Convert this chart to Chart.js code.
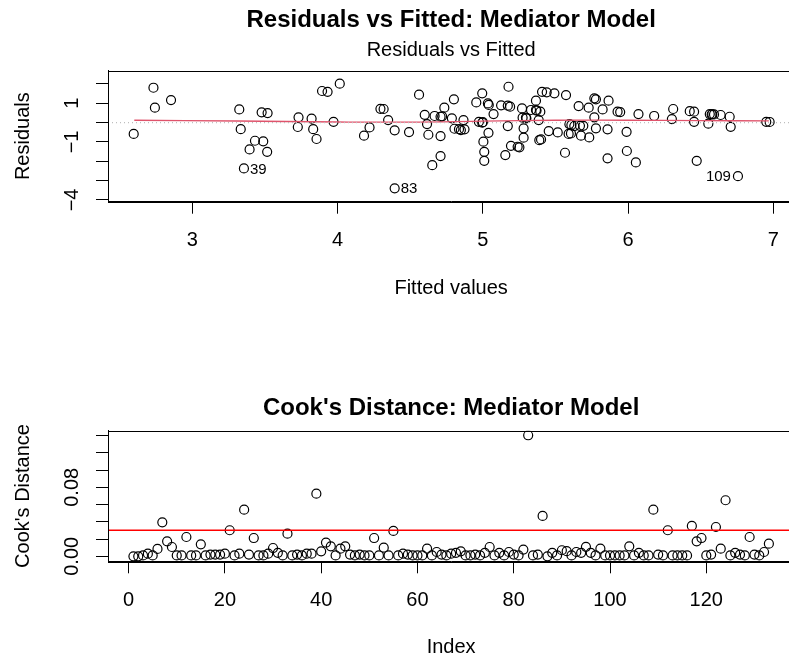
<!DOCTYPE html>
<html>
<head>
<meta charset="utf-8">
<title>Mediator Model diagnostics</title>
<script src="https://cdn.jsdelivr.net/npm/chart.js@4"></script>
<style>
  html, body { margin: 0; padding: 0; background: #fff; overflow: hidden; }
  #wrap { position: relative; width: 789px; height: 659px; overflow: hidden; }
  .panel { position: absolute; left: 0; }
  #p1 { top: 0; }
  #p2 { top: 330px; }
</style>
</head>
<body>
<div id="wrap">
  <div class="panel" id="p1"><canvas id="chart-resid" width="800" height="330"></canvas></div>
  <div class="panel" id="p2"><canvas id="chart-cook" width="800" height="345"></canvas></div>
</div>
<script>
const FONT = '"Liberation Sans", Arial, Helvetica, sans-serif';

// ==================== DATOS: Residuals vs Fitted ====================

const fittedVals = [
  2.596, 2.732, 2.742, 2.853, 3.323, 3.333, 3.431, 3.488, 3.394, 3.515, 3.355, 3.477, 3.518,
  3.731, 3.726, 3.821, 3.832, 3.855, 3.893, 3.931, 3.972, 4.015,
  4.182, 4.220, 4.295, 4.317, 4.348, 4.393, 4.492, 4.561, 4.600, 4.616, 4.625, 4.668, 4.709,
  4.709, 4.735, 4.801, 4.787, 4.805, 4.849, 4.867, 4.874, 4.652, 4.709, 4.955, 4.996, 4.973,
  4.996, 5.035, 5.039, 5.004, 5.010, 5.010, 5.074, 5.126, 5.172, 5.188, 5.177, 5.172, 5.155,
  5.194, 5.240, 5.252, 5.270, 5.274, 5.281, 5.281, 5.297, 5.332, 5.366, 5.366, 5.385, 5.396,
  5.389, 5.401, 5.408, 5.440, 5.493, 5.454, 5.516, 5.573, 5.566, 4.393, 4.836, 5.041,
  5.660, 5.729, 5.768, 5.779, 5.866, 5.768, 5.825, 5.779, 5.859, 5.596, 5.630, 5.669, 5.692,
  5.591, 5.607, 5.676, 5.733, 5.859, 5.928, 5.946, 5.990, 5.992, 6.054, 6.072, 6.180, 6.311,
  6.302, 6.425, 6.455, 6.455, 6.553, 6.563, 6.576, 6.592, 6.638, 6.700, 6.707, 6.473, 6.757,
  6.952, 6.975,
  5.300, 5.370, 5.000, 4.720, 5.610, 6.580
];
const residVals = [
  -0.59, 1.80, 0.77, 1.16, 0.68, -0.34, -0.94, -0.97, -1.39, -1.51, -2.37, 0.53, 0.49,
  0.27, -0.23, 0.20, -0.34, -0.85, 1.63, 1.59, 0.04, 2.01,
  -0.68, -0.25, 0.71, 0.70, 0.13, -0.40, -0.49, 1.44, 0.40, -0.08, -0.63, 0.34, -0.70,
  0.30, 0.77, 1.20, 0.22, -0.32, -0.39, 0.13, -0.35, -2.20, -1.73, 1.04, 1.51, 0.04,
  -0.01, 0.99, -0.53, -0.99, -1.51, -1.98, 0.44, 0.89, 0.87, 0.82, 1.85, -0.18, -1.68,
  -1.20, -1.25, -1.28, 0.73, 0.25, -0.30, -0.78, 0.25, 0.65, 1.13, 0.65, 0.13, 0.56,
  -0.91, -0.87, 1.59, 1.56, 1.51, -0.44, -0.51, 1.42, -1.56, -3.40, -0.34, 0.91,
  0.85, 0.77, 1.25, 1.20, 1.13, 0.27, 0.68, -0.30, -0.35, -0.08, -0.18, -0.17, -0.17,
  -0.59, -0.56, -0.68, -0.77, -1.85, 0.56, 0.54, -0.48, -1.47, -2.06, 0.44, 0.34, 0.70,
  0.18, 0.59, 0.56, 0.04, -0.06, 0.44, 0.42, 0.42, 0.39, 0.30, -0.22, -1.98, -2.77,
  0.04, 0.03,
  0.22, 0.62, 0.02, 0.32, -0.12, 0.43
];

// curva suavizada (lowess)
const lowessX = [2.60, 3.30, 4.00, 4.50, 5.00, 5.50, 6.00, 6.50, 6.97];
const lowessY = [0.12, 0.08, 0.03, 0.02, 0.07, 0.12, 0.12, 0.10, 0.09];

const residXRange = [2.419, 7.145];
const residYRange = [-4.09, 2.68];
const residXTicks = [3, 4, 5, 6, 7];
const residYTicks = [-4, -3, -2, -1, 0, 1, 2];
const residYLabels = [[1, '1'], [-1, '\u22121'], [-4, '\u22124']];

const outlierIds = ['39', '83', '109'];
const outlierFitted = [3.355, 4.393, 6.757];
const outlierResid = [-2.37, -3.40, -2.77];

// ==================== DATOS: Cook's Distance ====================

const cookD = [
  0.000, 0.000, 0.001, 0.003, 0.001, 0.0085, 0.0394, 0.0174, 0.0108, 0.001,
  0.001, 0.0224, 0.001, 0.001, 0.0139, 0.001, 0.002, 0.002, 0.002, 0.003,
  0.0302, 0.001, 0.003, 0.0541, 0.002, 0.0212, 0.001, 0.001, 0.003, 0.0096,
  0.004, 0.001, 0.0263, 0.001, 0.002, 0.001, 0.003, 0.003, 0.0727, 0.0058,
  0.0159, 0.0116, 0.001, 0.0089, 0.0116, 0.002, 0.001, 0.002, 0.001, 0.001,
  0.0212, 0.001, 0.010, 0.001, 0.0294, 0.001, 0.003, 0.002, 0.001, 0.001,
  0.001, 0.0089, 0.001, 0.005, 0.002, 0.001, 0.003, 0.004, 0.0058, 0.001,
  0.001, 0.002, 0.001, 0.004, 0.0108, 0.001, 0.004, 0.001, 0.005, 0.002,
  0.001, 0.0078, 0.1404, 0.001, 0.002, 0.0468, 0.000, 0.004, 0.001, 0.007,
  0.006, 0.001, 0.005, 0.004, 0.011, 0.004, 0.001, 0.0089, 0.001, 0.001,
  0.001, 0.001, 0.001, 0.0116, 0.001, 0.004, 0.001, 0.001, 0.0541, 0.002,
  0.001, 0.0302, 0.001, 0.001, 0.001, 0.001, 0.0352, 0.0174, 0.0212, 0.001,
  0.002, 0.034, 0.0089, 0.065, 0.001, 0.004, 0.002, 0.001, 0.0224, 0.002,
  0.001, 0.005, 0.0147
];
const cookIndex = cookD.map((_, i) => i + 1);
const cookCutoff = 4 / cookD.length;

const cookXRange = [-4.28, 138.28];
const cookYRange = [-0.0058, 0.1457];
const cookXTicks = [0, 20, 40, 60, 80, 100, 120];
const cookYTicks = [0, 0.02, 0.04, 0.06, 0.08, 0.10, 0.12, 0.14];
const cookYLabels = [[0, '0.00'], [0.08, '0.08']];

// ==================== PLUGINS ====================

// caja estilo R + etiquetas del eje Y rotadas
const rFrame = {
    id: 'rFrame',
    afterDraw(chart, args, opts) {
        const { ctx, chartArea: a, scales } = chart;
        ctx.save();
        ctx.strokeStyle = '#000';
        ctx.lineWidth = 1;
        ctx.strokeRect(Math.round(a.left) + 0.5, Math.round(a.top) + 0.5,
            Math.round(a.right - a.left), Math.round(a.bottom - a.top));

        ctx.fillStyle = '#000';
        ctx.font = '20px ' + FONT;
        ctx.textAlign = 'center';
        ctx.textBaseline = 'middle';
        (opts.yLabels || []).forEach(([v, txt]) => {
            const y = scales.y.getPixelForValue(v);
            ctx.save();
            ctx.translate(opts.labelX, y);
            ctx.rotate(-Math.PI / 2);
            ctx.fillText(txt, 0, 0);
            ctx.restore();
        });
        ctx.restore();
    }
};

// etiquetas de observaciones extremas (39, 83, 109)
const idLabels = {
    id: 'idLabels',
    afterDatasetsDraw(chart) {
        const { ctx, scales } = chart;
        const mid = (Math.min(...fittedVals) + Math.max(...fittedVals)) / 2;
        ctx.save();
        ctx.fillStyle = '#000';
        ctx.font = '15px ' + FONT;
        ctx.textBaseline = 'middle';
        outlierIds.forEach((id, i) => {
            const px = scales.x.getPixelForValue(outlierFitted[i]);
            const py = scales.y.getPixelForValue(outlierResid[i]);
            if (outlierFitted[i] > mid) {
                ctx.textAlign = 'right';
                ctx.fillText(id, px - 7, py + 1);
            } else {
                ctx.textAlign = 'left';
                ctx.fillText(id, px + 6, py + 1);
            }
        });
        ctx.restore();
    }
};

// ==================== HELPERS ====================

const axisGrid = { drawOnChartArea: false, drawTicks: true, tickLength: 12, color: '#000', lineWidth: 1 };
const axisBorder = { display: true, color: '#000', width: 1 };

function ejeX(range, ticks, titulo, alto, padTick, padTitulo) {
    return {
        type: 'linear',
        position: 'bottom',
        min: range[0],
        max: range[1],
        afterBuildTicks: s => { s.ticks = ticks.map(v => ({ value: v })); },
        afterFit: s => { s.height = alto; },
        grid: axisGrid,
        border: axisBorder,
        ticks: { font: { size: 20 }, color: '#000', padding: padTick, maxRotation: 0, autoSkip: false },
        title: { display: true, text: titulo, color: '#000', font: { size: 20 }, padding: { top: 0, bottom: padTitulo } }
    };
}

function ejeY(range, ticks, titulo) {
    return {
        type: 'linear',
        min: range[0],
        max: range[1],
        afterBuildTicks: s => { s.ticks = ticks.map(v => ({ value: v })); },
        afterFit: s => { s.width = 108; },
        grid: axisGrid,
        border: axisBorder,
        ticks: { callback: () => '' },
        title: { display: true, text: titulo, color: '#000', font: { size: 20 }, padding: { top: 11, bottom: 0 } }
    };
}

Chart.defaults.font.family = FONT;
Chart.defaults.color = '#000';

// ==================== GRÁFICO 1: Residuals vs Fitted ====================

new Chart(document.getElementById('chart-resid'), {
    type: 'scatter',
    data: {
        datasets: [
            {
                data: residXRange.map(x => ({ x, y: 0 })),
                showLine: true,
                borderColor: '#BEBEBE',
                borderWidth: 1.2,
                borderDash: [1, 3],
                pointRadius: 0
            },
            {
                data: lowessX.map((x, i) => ({ x, y: lowessY[i] })),
                showLine: true,
                borderColor: '#DF536B',
                borderWidth: 1.3,
                pointRadius: 0,
                tension: 0.4
            },
            {
                data: fittedVals.map((x, i) => ({ x, y: residVals[i] })),
                pointRadius: 4.5,
                pointBorderWidth: 1.2,
                pointBorderColor: '#000',
                pointBackgroundColor: 'rgba(0,0,0,0)'
            }
        ]
    },
    options: {
        responsive: false,
        animation: false,
        events: [],
        layout: { padding: { left: 0, right: 4.5, top: 0, bottom: 0 } },
        plugins: {
            legend: { display: false },
            tooltip: { enabled: false },
            title: {
                display: true,
                fullSize: false,
                text: 'Residuals vs Fitted: Mediator Model',
                color: '#000',
                font: { size: 24, weight: 'bold' },
                padding: { top: 5.6, bottom: 0 }
            },
            subtitle: {
                display: true,
                fullSize: false,
                text: 'Residuals vs Fitted',
                color: '#000',
                font: { size: 20 },
                padding: { top: 3.6, bottom: 8.7 }
            },
            rFrame: { yLabels: residYLabels, labelX: 72 }
        },
        scales: {
            x: ejeX(residXRange, residXTicks, 'Fitted values', 128.3, 15, 30),
            y: ejeY(residYRange, residYTicks, 'Residuals')
        }
    },
    plugins: [rFrame, idLabels]
});

// ==================== GRÁFICO 2: Cook's Distance ====================

new Chart(document.getElementById('chart-cook'), {
    type: 'scatter',
    data: {
        datasets: [
            {
                data: cookXRange.map(x => ({ x, y: cookCutoff })),
                showLine: true,
                borderColor: '#FF0000',
                borderWidth: 1.5,
                pointRadius: 0
            },
            {
                data: cookIndex.map((x, i) => ({ x, y: cookD[i] })),
                pointRadius: 4.5,
                pointBorderWidth: 1.2,
                pointBorderColor: '#000',
                pointBackgroundColor: 'rgba(0,0,0,0)'
            }
        ]
    },
    options: {
        responsive: false,
        animation: false,
        events: [],
        layout: { padding: { left: 0, right: 1, top: 0, bottom: 0 } },
        plugins: {
            legend: { display: false },
            tooltip: { enabled: false },
            title: {
                display: true,
                fullSize: false,
                text: "Cook's Distance: Mediator Model",
                color: '#000',
                font: { size: 24, weight: 'bold' },
                padding: { top: 63.6, bottom: 8.3 }
            },
            rFrame: { yLabels: cookYLabels, labelX: 72 }
        },
        scales: {
            x: ejeX(cookXRange, cookXTicks, 'Index', 113.7, 15, 16),
            y: ejeY(cookYRange, cookYTicks, "Cook's Distance")
        }
    },
    plugins: [rFrame]
});
</script>
</body>
</html>
